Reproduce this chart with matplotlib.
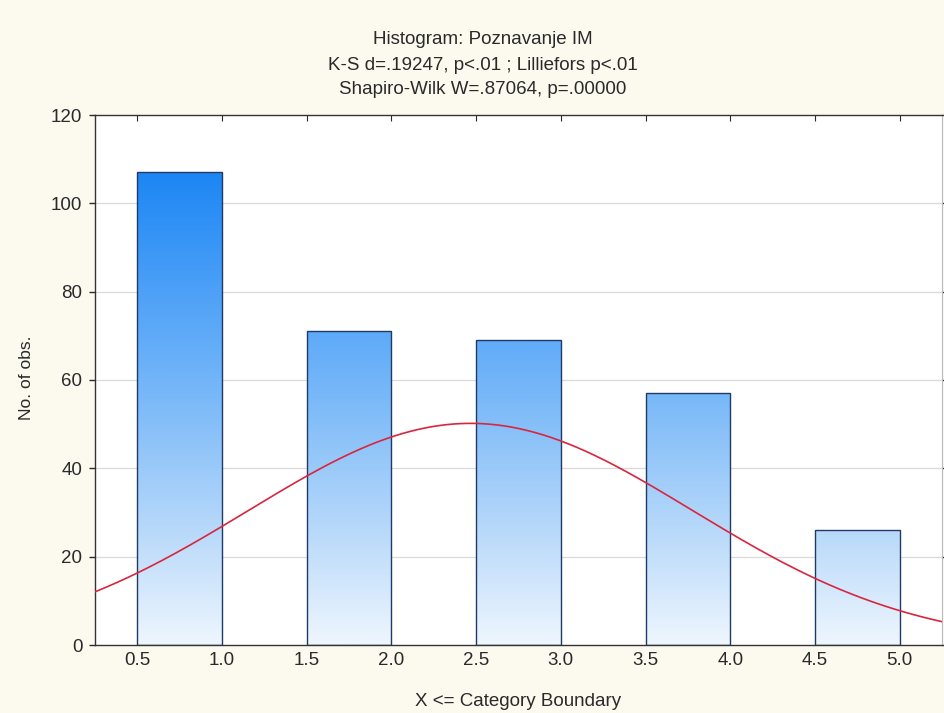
import numpy as np
import matplotlib
matplotlib.use("Agg")
import matplotlib.pyplot as plt
from matplotlib.colors import LinearSegmentedColormap, Normalize

# ---- data ----
bin_lo = [0.5, 1.5, 2.5, 3.5, 4.5]
bin_hi = [1.0, 2.0, 3.0, 4.0, 5.0]
counts = [107, 71, 69, 57, 26]
x_ticks = [0.5, 1.0, 1.5, 2.0, 2.5, 3.0, 3.5, 4.0, 4.5, 5.0]
y_ticks = [0, 20, 40, 60, 80, 100, 120]
title_lines = ["Histogram: Poznavanje IM",
               "K-S d=.19247, p<.01 ; Lilliefors p<.01",
               "Shapiro-Wilk W=.87064, p=.00000"]
x_label = "X <= Category Boundary"
y_label = "No. of obs."

plt.rcParams['font.family'] = ['Liberation Sans', 'DejaVu Sans']

W, H = 944, 713
FS = 13.5
fig = plt.figure(figsize=(W / 100, H / 100), dpi=100, facecolor='#FCF9EF')
ax = fig.add_axes([95 / W, 1 - 645 / H, (942 - 95) / W, (645 - 115) / H])
ax.set_facecolor('white')

# gridlines
for yv in y_ticks[1:-1]:
    ax.axhline(yv, color='#D9D9D9', lw=0.9, zorder=0)

# gradient bars
cmap = LinearSegmentedColormap.from_list('statblue', [
    (0.0, '#EEF6FE'), (0.24, '#B8D9FA'), (0.53, '#78B8F8'),
    (0.66, '#5EAAF8'), (1.0, '#1C86F4')])
norm = Normalize(0, 107)
for lo, hi, c in zip(bin_lo, bin_hi, counts):
    grad = np.linspace(0, c, 256).reshape(-1, 1)
    ax.imshow(grad, cmap=cmap, norm=norm, extent=(lo, hi, 0, c),
              origin='lower', aspect='auto', zorder=2, interpolation='bilinear')
    ax.bar(lo, c, width=hi - lo, align='edge', facecolor='none',
           edgecolor='#1F3A66', lw=1.0, zorder=3)
ax.set_xlim(0.25, 5.25)
ax.set_ylim(0, 120)

# normal curve derived from the data (values = category boundaries)
vals = np.array(bin_hi)
cnt = np.array(counts)
N = cnt.sum()
mu = (vals * cnt).sum() / N
sd = np.sqrt(((vals - mu) ** 2 * cnt).sum() / (N - 1))
xs = np.linspace(0.25, 5.25, 400)
ys = N * 0.5 / (sd * np.sqrt(2 * np.pi)) * np.exp(-0.5 * ((xs - mu) / sd) ** 2)
ax.plot(xs, ys, color='#D8263E', lw=1.2, zorder=4)

# spines / ticks
for s in ['left', 'bottom', 'top']:
    ax.spines[s].set_color('#333333')
    ax.spines[s].set_linewidth(1.0)
ax.spines['right'].set_color('#BBBBBB')
ax.spines['right'].set_linewidth(0.8)
ax.set_xticks(x_ticks)
ax.set_xticklabels([f"{v:.1f}" for v in x_ticks])
ax.set_yticks(y_ticks)
ax.tick_params(axis='x', length=0, pad=5, labelsize=FS, colors='#2A2A2A')
ax.tick_params(axis='y', length=4, width=1, direction='out', pad=5,
               labelsize=FS, colors='#2A2A2A', right=True)
ax.tick_params(axis='x', which='both', top=True, direction='in', length=4)
ax.tick_params(axis='x', bottom=False)

# titles
for i, t in enumerate(title_lines):
    fig.text(483 / W, 1 - (40 + 25 * i) / H, t, ha='center', va='center',
             fontsize=FS, color='#2A2A2A')
fig.text(518 / W, 1 - 702 / H, x_label, ha='center', va='center',
         fontsize=FS, color='#2A2A2A')
fig.text(27 / W, 1 - 378 / H, y_label, ha='center', va='center',
         rotation=90, fontsize=12.5, color='#2A2A2A')

fig.savefig('out.png', dpi=100, facecolor=fig.get_facecolor())
